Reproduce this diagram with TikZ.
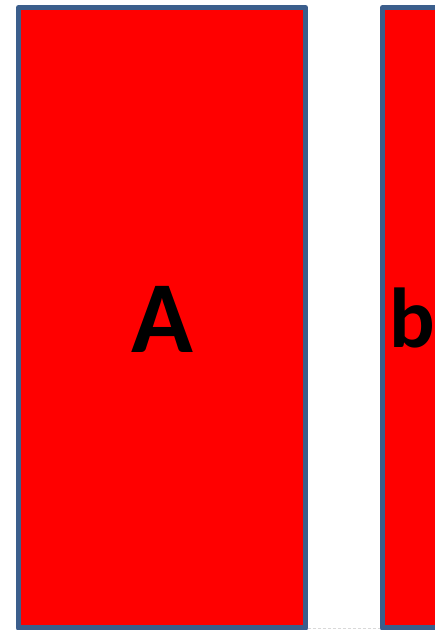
\documentclass[tikz,border=0pt]{standalone}
\usepackage{fontspec}
\setmainfont{Carlito}
\usepackage{xcolor}
\definecolor{boxred}{HTML}{FF0000}
\definecolor{boxedge}{HTML}{3B5E8C}
\definecolor{gapline}{HTML}{D9D9D9}

\begin{document}
\begin{tikzpicture}[x=1pt,y=1pt,line join=round,
    panel/.style={fill=boxred,draw=boxedge,line width=5pt},
    letter/.style={font=\fontsize{102}{102}\selectfont\bfseries,inner sep=0pt}]
  \useasboundingbox (0,0) rectangle (435,630);
  \clip (0,0) rectangle (435,630);
  % left panel
  \filldraw[panel] (18.5,2) rectangle (305.5,622.5);
  \node[letter,anchor=base] (lblA) at (162,277) {A};
  % right panel, runs off the page
  \filldraw[panel] (382.5,2) rectangle (700,622.5);
  \node[letter,font=\fontsize{85}{85}\selectfont\bfseries,anchor=base west] (lblb) at (389.5,282) {b};
  % faint dashed line between the panels
  \coordinate (gapL) at (308,1.5);
  \coordinate (gapR) at (380,1.5);
  \draw[gapline,line width=1.5pt,dash pattern=on 3pt off 2pt] (gapL) -- (gapR);
\end{tikzpicture}
\end{document}
